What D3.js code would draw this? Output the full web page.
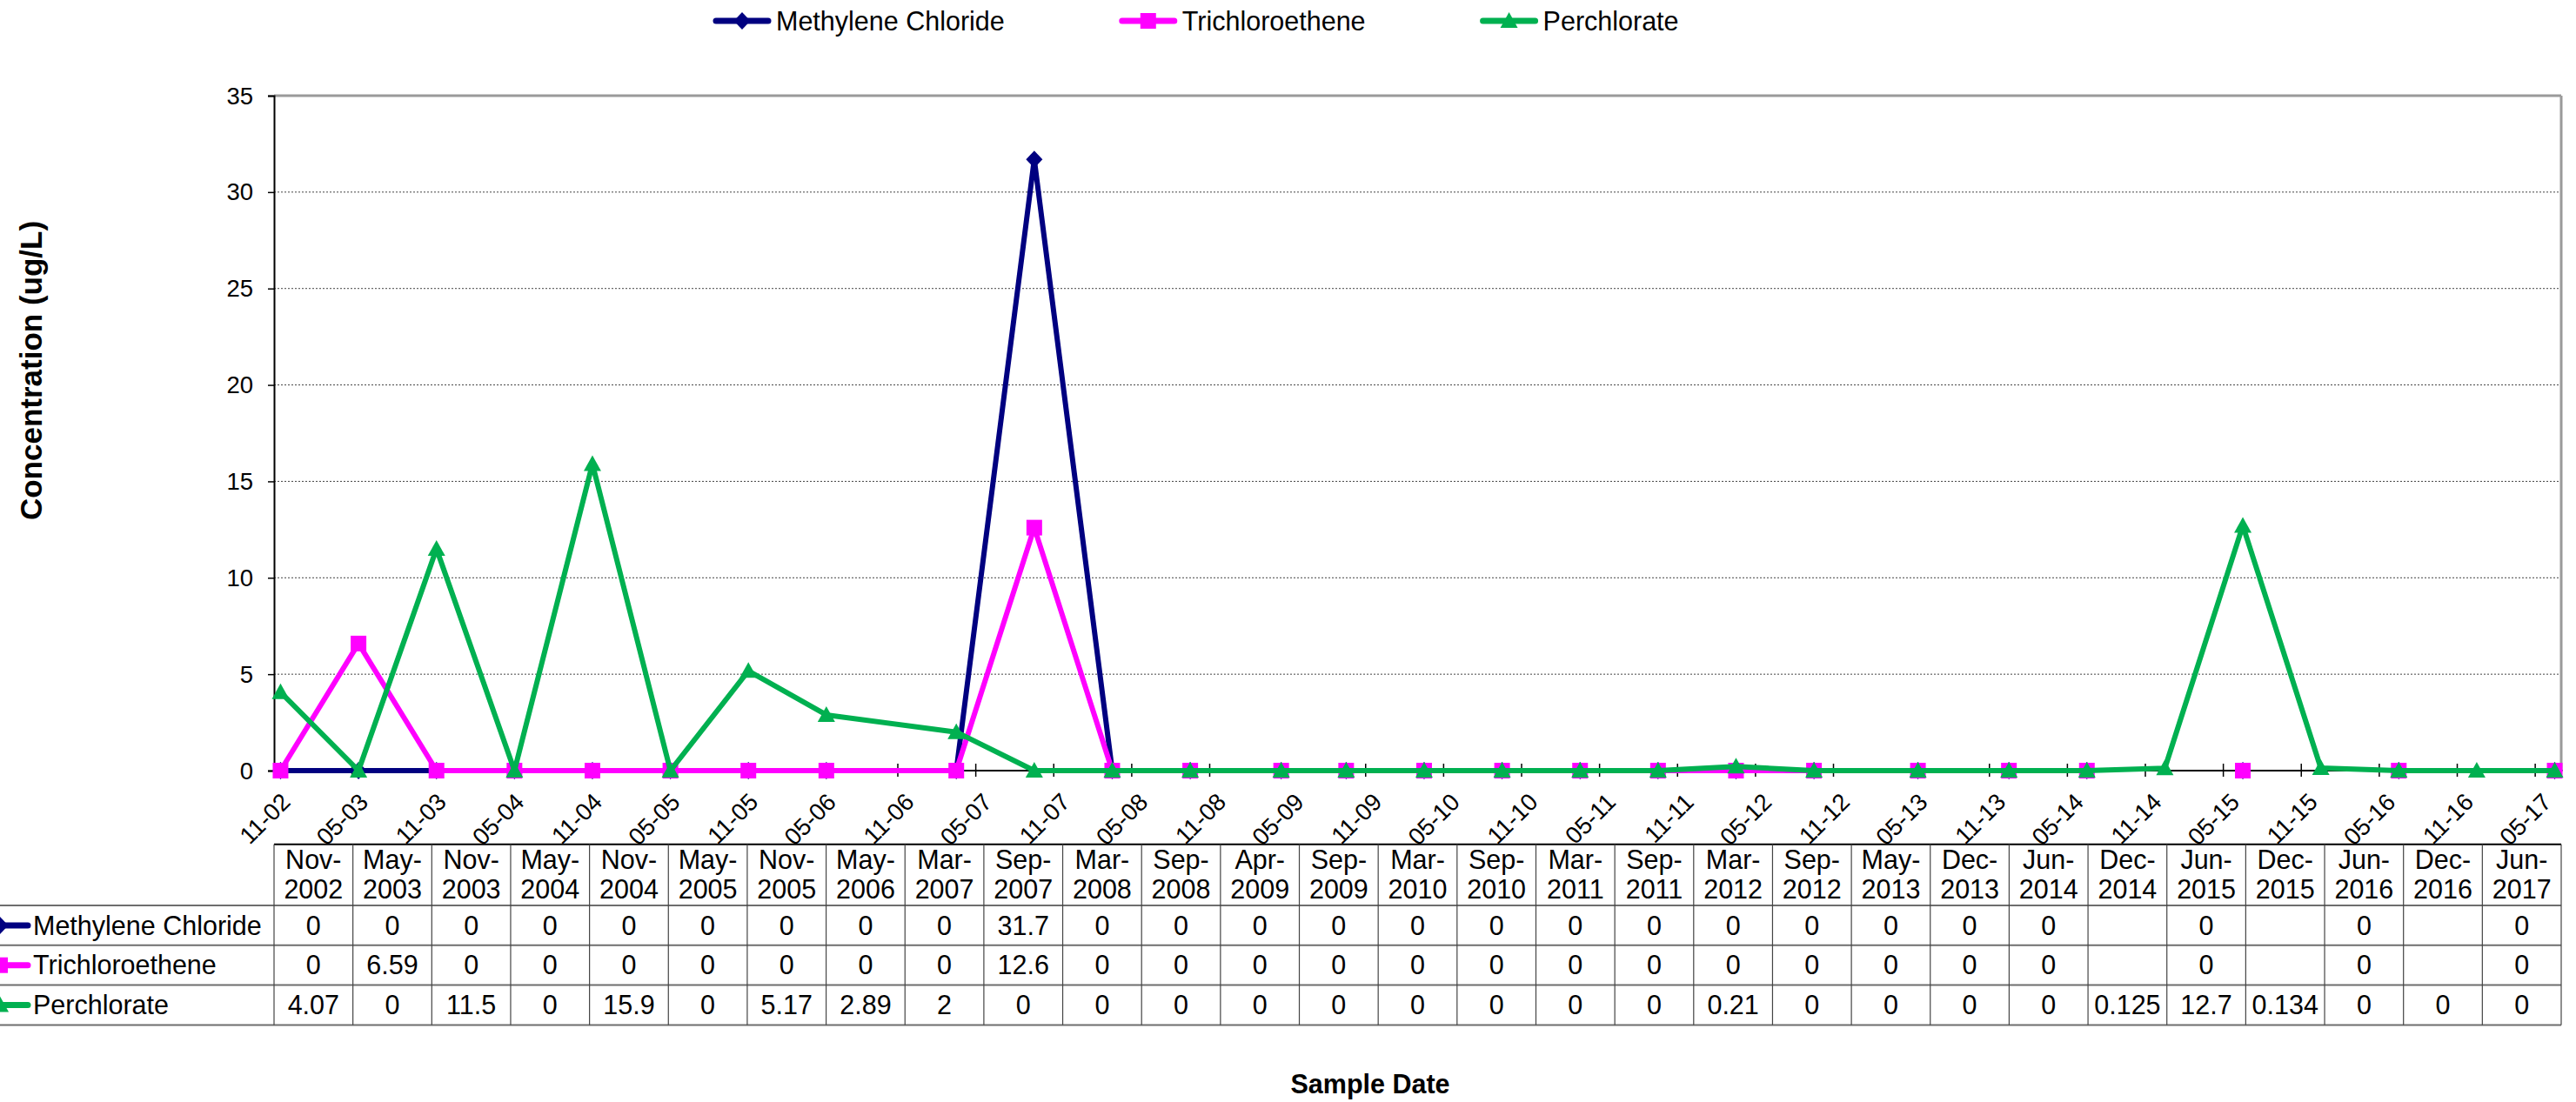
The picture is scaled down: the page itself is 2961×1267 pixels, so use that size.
<!DOCTYPE html>
<html>
<head>
<meta charset="utf-8">
<script src="https://cdn.jsdelivr.net/npm/d3@7"></script>
<style>
html,body{margin:0;padding:0;background:#fff;}
text{font-family:"Liberation Sans",Arial,sans-serif;fill:#000;}
</style>
</head>
<body>
<svg id="chart" width="2961" height="1267"></svg>
<script>
// ---------------- DATA ----------------
const categories = ["Nov-2002","May-2003","Nov-2003","May-2004","Nov-2004","May-2005","Nov-2005","May-2006",
  "Mar-2007","Sep-2007","Mar-2008","Sep-2008","Apr-2009","Sep-2009","Mar-2010","Sep-2010","Mar-2011",
  "Sep-2011","Mar-2012","Sep-2012","May-2013","Dec-2013","Jun-2014","Dec-2014","Jun-2015","Dec-2015",
  "Jun-2016","Dec-2016","Jun-2017"];
const methyleneChloride = [0,0,0,0,0,0,0,0,0,31.7,0,0,0,0,0,0,0,0,0,0,0,0,0,null,0,null,0,null,0];
const trichloroethene   = [0,6.59,0,0,0,0,0,0,0,12.6,0,0,0,0,0,0,0,0,0,0,0,0,0,null,0,null,0,null,0];
const perchlorate       = [4.07,0,11.5,0,15.9,0,5.17,2.89,2,0,0,0,0,0,0,0,0,0,0.21,0,0,0,0,0.125,12.7,0.134,0,0,0];
const seriesNames  = ["Methylene Chloride","Trichloroethene","Perchlorate"];
const seriesColors = ["#000080","#FF00FF","#00B050"];
const seriesShapes = ["diamond","square","triangle"];
const xTickLabels = ["11-02","05-03","11-03","05-04","11-04","05-05","11-05","05-06","11-06","05-07",
  "11-07","05-08","11-08","05-09","11-09","05-10","11-10","05-11","11-11","05-12","11-12","05-13",
  "11-13","05-14","11-14","05-15","11-15","05-16","11-16","05-17"];
const yTicks = [0,5,10,15,20,25,30,35];
const yTitle = "Concentration (ug/L)";
const xTitle = "Sample Date";

// ---------------- LAYOUT ----------------
const L = 315, R = 2944, T = 110, B = 886;
const tableTop = 970.7, headerBot = 1041, rowH = 45.8;
const FS = 30.5;

const svg = d3.select("#chart");
const monthNames = ["Jan","Feb","Mar","Apr","May","Jun","Jul","Aug","Sep","Oct","Nov","Dec"];
const startMonth = 2002*12 + 10; // Nov 2002
const monthIdx = c => { const [m,y] = c.split("-"); return (+y)*12 + monthNames.indexOf(m) - startMonth; };
const nMonths = monthIdx(categories[categories.length-1]) + 1;

const xM = d3.scaleLinear().domain([0, nMonths]).range([L, R]);
const xPos = c => xM(monthIdx(c) + 0.5);
const y = d3.scaleLinear().domain([0, 35]).range([B, T]);
const xBand = d3.scaleBand().domain(categories).range([L, R]);

function stext(parent, x, yy, str, opts) {
  opts = opts || {};
  const g = parent.append("g").attr("transform",
    `translate(${x},${yy})` + (opts.rot ? ` rotate(${opts.rot})` : ""));
  const t = g.append("text").text(str)
    .attr("font-size", opts.size || FS)
    .attr("font-weight", opts.bold ? "bold" : "normal")
    .attr("text-anchor", opts.anchor || "start");
  if (opts.dy) t.attr("dy", opts.dy);
  return t;
}

// ---------------- PLOT AREA ----------------
svg.append("g").selectAll("line").data(yTicks.filter(v => v > 0 && v < 35)).join("line")
  .attr("x1", L).attr("x2", R).attr("y1", d => y(d)).attr("y2", d => y(d))
  .attr("stroke", "#444").attr("stroke-width", 1).attr("stroke-dasharray", "2,2");
svg.append("line").attr("x1", L).attr("x2", R).attr("y1", y(35)).attr("y2", y(35))
  .attr("stroke", "#9a9a9a").attr("stroke-width", 3);
svg.append("line").attr("x1", R).attr("x2", R).attr("y1", y(35)).attr("y2", B)
  .attr("stroke", "#9a9a9a").attr("stroke-width", 3);

// y axis
const yAxis = svg.append("g").attr("transform", `translate(${L},0)`)
  .call(d3.axisLeft(y).tickValues(yTicks).tickSize(7).tickFormat(""));
yAxis.select(".domain").attr("stroke", "#000").attr("stroke-width", 2);
yAxis.selectAll(".tick line").attr("stroke", "#000").attr("stroke-width", 1.5);
yTicks.forEach(v => stext(svg, 291, y(v), String(v), {size: 27.5, anchor: "end", dy: "0.35em"}));

// x axis
svg.append("line").attr("x1", L).attr("x2", R).attr("y1", B).attr("y2", B)
  .attr("stroke", "#000").attr("stroke-width", 2);
const tickIdx = xTickLabels.map((d, i) => i * 6);
svg.append("g").selectAll("line").data(tickIdx).join("line")
  .attr("x1", d => xM(d)).attr("x2", d => xM(d)).attr("y1", B - 8).attr("y2", B + 7)
  .attr("stroke", "#000").attr("stroke-width", 1.5);
xTickLabels.forEach((lab, i) => {
  stext(svg, xM(tickIdx[i] + 0.5) + 6, B + 31, lab, {size: 27.5, anchor: "end", rot: -45, dy: "0.35em"});
});

// ---------------- SERIES ----------------
const seriesData = [methyleneChloride, trichloroethene, perchlorate];
function markerPath(shape) {
  if (shape === "diamond") return "M0,-10L9.5,0L0,10L-9.5,0Z";
  if (shape === "square") return "M-9,-9H9V9H-9Z";
  return "M0,-10L10,8H-10Z";
}
seriesData.forEach((vals, si) => {
  const pts = categories.map((c, i) => ({x: xPos(c), v: vals[i]}));
  const line = d3.line().defined(d => d.v != null).x(d => d.x).y(d => y(d.v));
  const g = svg.append("g");
  g.append("path").datum(pts).attr("d", line).attr("fill", "none")
    .attr("stroke", seriesColors[si]).attr("stroke-width", 6).attr("stroke-linejoin", "round");
  g.selectAll("path.m").data(pts.filter(d => d.v != null)).join("path").attr("class", "m")
    .attr("d", markerPath(seriesShapes[si]))
    .attr("transform", d => `translate(${d.x},${y(d.v)})`)
    .attr("fill", seriesColors[si]);
});

// ---------------- LEGEND ----------------
function legendKey(parent, cx, cy, si, half) {
  parent.append("line").attr("x1", cx - half).attr("x2", cx + half).attr("y1", cy).attr("y2", cy)
    .attr("stroke", seriesColors[si]).attr("stroke-width", 7).attr("stroke-linecap", "round");
  parent.append("path").attr("d", markerPath(seriesShapes[si]))
    .attr("transform", `translate(${cx},${cy})`).attr("fill", seriesColors[si]);
}
let lx = 821;
const legY = 24;
seriesNames.forEach((name, si) => {
  legendKey(svg, lx + 32, legY, si, 30);
  const t = stext(svg, lx + 71, legY, name, {size: FS, dy: "0.35em"});
  lx += 71 + t.node().getComputedTextLength() + 133;
});

// ---------------- DATA TABLE ----------------
const rowY = i => headerBot + i * rowH;
svg.append("line").attr("x1", L).attr("x2", R).attr("y1", tableTop).attr("y2", tableTop)
  .attr("stroke", "#000").attr("stroke-width", 2);
[0, 1, 2, 3].forEach(i => {
  svg.append("line").attr("x1", 0).attr("x2", R).attr("y1", rowY(i)).attr("y2", rowY(i))
    .attr("stroke", "#6e6e6e").attr("stroke-width", 2);
});
const bounds = categories.map(c => xBand(c)).concat([R]);
svg.append("g").selectAll("line").data(bounds).join("line")
  .attr("x1", d => d).attr("x2", d => d).attr("y1", tableTop).attr("y2", rowY(3))
  .attr("stroke", "#444").attr("stroke-width", 1.2);
categories.forEach(c => {
  const cx = xBand(c) + xBand.bandwidth() / 2;
  const [m, yr] = c.split("-");
  stext(svg, cx, 999, m + "-", {size: FS, anchor: "middle"});
  stext(svg, cx, 1033, yr, {size: FS, anchor: "middle"});
});
seriesData.forEach((vals, si) => {
  const cy = rowY(si) + rowH / 2;
  legendKey(svg, 0, cy, si, 32);
  stext(svg, 38, cy, seriesNames[si], {size: FS, dy: "0.35em"});
  categories.forEach((c, i) => {
    if (vals[i] == null) return;
    stext(svg, xBand(c) + xBand.bandwidth() / 2, cy, String(vals[i]), {size: FS, anchor: "middle", dy: "0.35em"});
  });
});

// ---------------- TITLES ----------------
stext(svg, 1575, 1257, xTitle, {size: 30.5, bold: true, anchor: "middle"});
svg.append("g").attr("transform", `translate(48,426) rotate(-90)`)
  .append("text").text(yTitle).attr("font-size", 35).attr("font-weight", "bold")
  .attr("text-anchor", "middle");
</script>
</body>
</html>
